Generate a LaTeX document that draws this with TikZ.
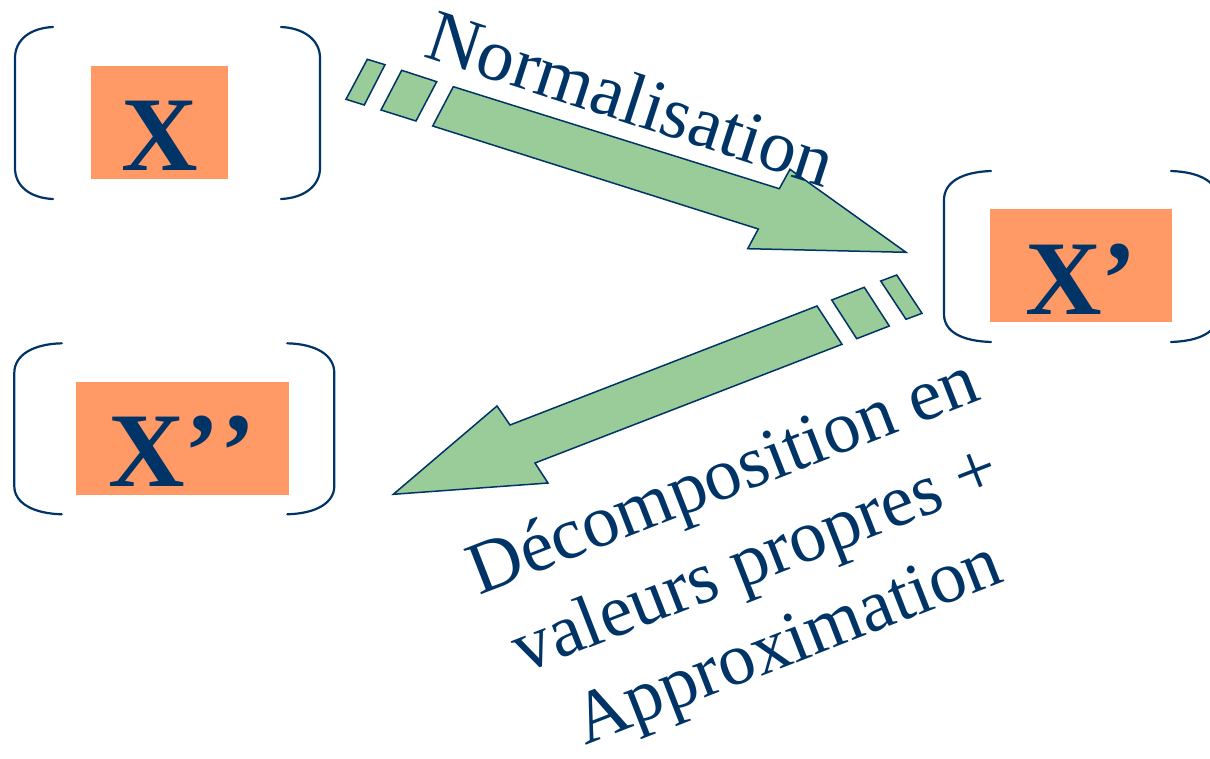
\documentclass[tikz,border=0pt]{standalone}
\usepackage{fontspec}
\setmainfont{Liberation Serif}
\definecolor{navy}{RGB}{0,51,102}
\definecolor{boxorange}{RGB}{255,153,102}
\definecolor{arrowgreen}{RGB}{153,204,153}
\begin{document}
\begin{tikzpicture}[x=1pt,y=-1pt,
  bracket/.style={draw=navy,line width=2.2pt,line cap=round},
  matbox/.style={fill=boxorange,draw=none,inner sep=0pt},
  bigarrow/.style={fill=arrowgreen,draw=navy,line width=1.5pt,line join=miter},
  matlabel/.style={text=navy,font=\fontsize{106}{127}\selectfont\bfseries,inner sep=0pt,anchor=base},
  steplabel/.style={text=navy,font=\fontsize{74}{89}\selectfont,inner sep=0pt,anchor=base}]
\useasboundingbox (0,0) rectangle (1210,758);
\clip (0,0) rectangle (1210,758);
% group X
\draw[bracket] (53,27) .. controls (30,28) and (15,40) .. (15,58) -- (15,168) .. controls (15,186) and (30,198) .. (53,199);
\draw[bracket] (281,27) .. controls (304,28) and (320,40) .. (320,58) -- (320,168) .. controls (320,186) and (304,198) .. (281,199);
\node[matbox,minimum width=137pt,minimum height=113pt] (bx) at (159.5,122.5) {};
\node[matlabel] (lx) at (159.5,170) {X};
% group X'
\draw[bracket] (991,171) .. controls (962,172) and (944,182) .. (944,200) -- (944,314) .. controls (944,332) and (962,341) .. (991,342);
\draw[bracket] (1171,171) .. controls (1200,172) and (1218,182) .. (1218,200) -- (1218,314) .. controls (1218,332) and (1200,341) .. (1171,342);
\node[matbox,minimum width=182pt,minimum height=113pt] (bxp) at (1081,265.5) {};
\node[matlabel] (lxp) at (1081,314) {X’};
% group X''
\draw[bracket] (61.7,343.3) .. controls (33,344) and (14.3,355) .. (14.3,373) -- (14.3,486) .. controls (14.3,503) and (33,513.5) .. (61.7,514.3);
\draw[bracket] (287.3,343.3) .. controls (316,344) and (334.3,355) .. (334.3,373) -- (334.3,486) .. controls (334.3,503) and (316,513.5) .. (287.3,514.3);
\node[matbox,minimum width=213pt,minimum height=113pt] (bxpp) at (182.3,438) {};
\node[matlabel] (lxpp) at (182,486) {X’\kern0pt’};
% arrow 1
\draw[bigarrow] (453.3,86.7) -- (779.3,188.7) -- (790,169.3) -- (906,252.3) -- (747.7,248.7) -- (758.3,229) -- (432.7,126) -- cycle;
\draw[bigarrow] (367.3,59.3) -- (385,64.7) -- (364.3,105) -- (346,99.3) -- cycle;
\draw[bigarrow] (401.7,70.3) -- (436.7,81.7) -- (416,121) -- (381,110) -- cycle;
% arrow 2
\draw[bigarrow] (817,306) -- (510,425) -- (497,406) -- (393.3,494.3) -- (548,483) -- (535,463) -- (842,344.3) -- cycle;
\draw[bigarrow] (831.7,300) -- (864.3,287.3) -- (889.3,326) -- (856.7,338.7) -- cycle;
\draw[bigarrow] (880.7,281) -- (896.7,275) -- (922,313.3) -- (906,319.3) -- cycle;
% labels
\node[steplabel,rotate=-18] (norm) at (623.5,122) {Normalisation};
\node[steplabel,rotate=21.3] (dec1) at (731.1,497) {Décomposition en};
\node[steplabel,rotate=21.3] (dec2) at (763.4,580) {valeurs propres +};
\node[steplabel,rotate=21.3] (dec3) at (795.7,663) {Approximation};
\end{tikzpicture}
\end{document}
